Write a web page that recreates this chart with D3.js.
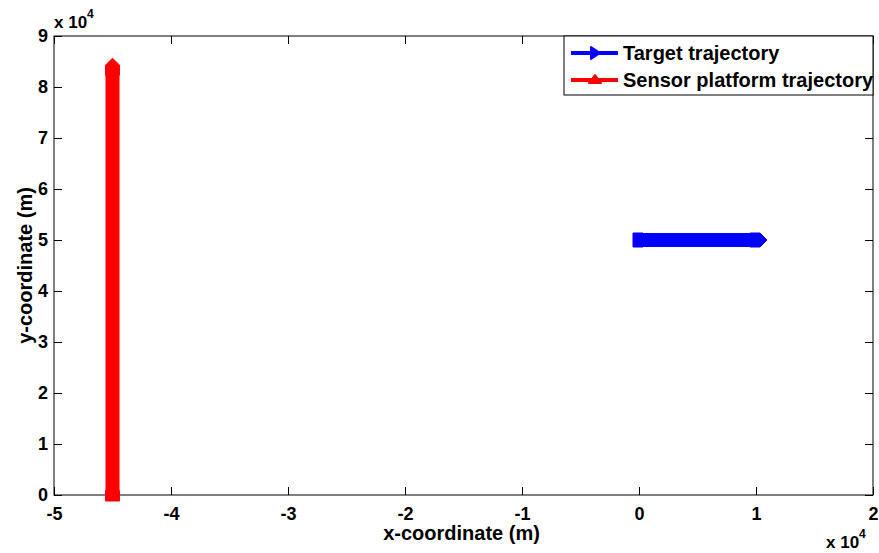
<!DOCTYPE html>
<html>
<head>
<meta charset="utf-8">
<script src="https://cdn.jsdelivr.net/npm/d3@7"></script>
<style>
  body { margin: 0; background: #fff; }
  svg text { font-family: "Liberation Sans", Arial, sans-serif; font-weight: bold; fill: #000; }
</style>
</head>
<body>
<div id="chart"></div>
<script>
const WIDTH = 879;
const HEIGHT = 553;

// data (metres)
const targetX = [0, 10000];
const targetY = [50000, 50000];
const sensorX = [-45000, -45000];
const sensorY = [0, 83500];
const xTicks = [-5, -4, -3, -2, -1, 0, 1, 2];
const yTicks = [0, 1, 2, 3, 4, 5, 6, 7, 8, 9];
const legendLabels = ["Target trajectory", "Sensor platform trajectory"];
const seriesColors = ["#0000ff", "#ff0000"];

const margin = { left: 54, right: 6, top: 36, bottom: 58 };
const pw = WIDTH - margin.left - margin.right;
const ph = HEIGHT - margin.top - margin.bottom;

const svg = d3.select("#chart").append("svg")
  .attr("width", WIDTH)
  .attr("height", HEIGHT);

const g = svg.append("g")
  .attr("transform", "translate(" + margin.left + "," + margin.top + ")");

const x = d3.scaleLinear().domain([-50000, 20000]).range([0, pw]);
const y = d3.scaleLinear().domain([0, 90000]).range([ph, 0]);

// axes box with inward ticks on all four sides
function drawAxis(axis, tx, ty) {
  const a = g.append("g")
    .attr("transform", "translate(" + tx + "," + ty + ")")
    .call(axis);
  a.select(".domain").remove();
  a.selectAll("line").attr("stroke", "#000").attr("stroke-width", 1);
  return a;
}

const xAx = drawAxis(d3.axisBottom(x).tickValues(xTicks.map(d => d * 1e4))
  .tickSizeInner(-8).tickSizeOuter(0).tickPadding(12).tickFormat(d => d / 1e4), 0, ph);
xAx.selectAll("text").style("font-size", "18px");
drawAxis(d3.axisTop(x).tickValues(xTicks.map(d => d * 1e4))
  .tickSizeInner(-8).tickSizeOuter(0).tickFormat(""), 0, 0);

const yAx = drawAxis(d3.axisLeft(y).tickValues(yTicks.map(d => d * 1e4))
  .tickSizeInner(-8).tickSizeOuter(0).tickPadding(6).tickFormat(d => d / 1e4), 0, 0);
yAx.selectAll("text").style("font-size", "18px");
drawAxis(d3.axisRight(y).tickValues(yTicks.map(d => d * 1e4))
  .tickSizeInner(-8).tickSizeOuter(0).tickFormat(""), pw, 0);

g.append("rect")
  .attr("width", pw).attr("height", ph)
  .attr("fill", "none").attr("stroke", "#000").attr("stroke-width", 1);

// marker: flat back, pointed front (along +x before rotation)
function markerPath(s) {
  return "M" + (-6 * s) + "," + (-7 * s) + "L" + (4 * s) + "," + (-7 * s) +
    "L" + (11 * s) + ",0L" + (4 * s) + "," + (7 * s) + "L" + (-6 * s) + "," + (7 * s) + "Z";
}

function drawTrack(xs, ys, color, angle) {
  const pts = xs.map((d, i) => [x(d), y(ys[i])]);
  g.append("path")
    .attr("d", d3.line()(pts))
    .attr("fill", "none")
    .attr("stroke", color)
    .attr("stroke-width", 14);
  g.selectAll(null).data(pts).enter().append("path")
    .attr("d", markerPath(1))
    .attr("transform", d => "translate(" + d[0] + "," + d[1] + ") rotate(" + angle + ")")
    .attr("fill", color)
    .attr("stroke", color)
    .attr("stroke-width", 1)
    .attr("stroke-linejoin", "round");
}

drawTrack(targetX, targetY, seriesColors[0], 0);
drawTrack(sensorX, sensorY, seriesColors[1], -90);

// exponent labels
function expLabel(px, py) {
  const t = svg.append("text").attr("x", px).attr("y", py).style("font-size", "17px");
  t.append("tspan").text("x 10");
  t.append("tspan").attr("dy", -10).style("font-size", "12px").text("4");
}
expLabel(54, 28);
expLabel(826, 548);

// axis labels
svg.append("text")
  .attr("x", margin.left + pw / 2 - 2).attr("y", 540)
  .attr("text-anchor", "middle").style("font-size", "20px")
  .text("x-coordinate (m)");
svg.append("text")
  .attr("transform", "translate(32," + (margin.top + ph / 2) + ") rotate(-90)")
  .attr("text-anchor", "middle").style("font-size", "20px")
  .text("y-coordinate (m)");

// legend
const leg = svg.append("g").attr("transform", "translate(564,36)");
leg.append("rect")
  .attr("width", 309).attr("height", 59)
  .attr("fill", "#fff").attr("stroke", "#000").attr("stroke-width", 1);
legendLabels.forEach(function(label, i) {
  const ly = 17 + i * 27;
  leg.append("line")
    .attr("x1", 7).attr("x2", 54).attr("y1", ly).attr("y2", ly)
    .attr("stroke", seriesColors[i]).attr("stroke-width", 4);
  const tri = i === 0
    ? "M-4,-6L5,0L-4,6Z"
    : "M-6,3L0,-5L6,3Z";
  leg.append("path")
    .attr("d", tri)
    .attr("transform", "translate(31," + ly + ")")
    .attr("fill", seriesColors[i]).attr("stroke", seriesColors[i])
    .attr("stroke-width", 2).attr("stroke-linejoin", "round");
  leg.append("text")
    .attr("x", 59).attr("y", ly + 7)
    .style("font-size", "20px")
    .text(label);
});
</script>
</body>
</html>
